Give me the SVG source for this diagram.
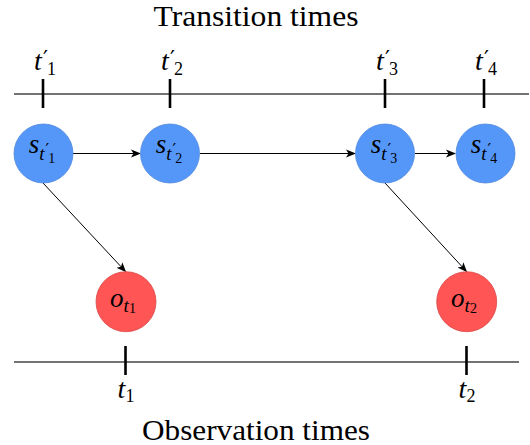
<svg xmlns="http://www.w3.org/2000/svg" width="530" height="445" viewBox="0 0 530 445">
<defs>
<marker id="ah" viewBox="0 0 10 10" refX="9" refY="5" markerWidth="10" markerHeight="10" markerUnits="userSpaceOnUse" orient="auto">
<path d="M0,1 L10,5 L0,9 L2.5,5 Z" fill="#000"/>
</marker>
<style>
text{font-family:"Liberation Serif","DejaVu Serif",serif;fill:#000}
.title{font-size:30px}
.m{font-size:28px;font-style:italic}
.n{font-size:27px;font-style:italic}
.sub{font-size:19px}
.d{font-size:18px;font-style:normal}
.ds{font-size:14px;font-style:normal}
.p{font-family:"DejaVu Sans",sans-serif;font-style:normal;font-size:22px}
.ps{font-family:"DejaVu Sans",sans-serif;font-style:normal;font-size:16px}
.axis{stroke:#444;stroke-width:1.3;fill:none}
.tick{stroke:#000;stroke-width:2.6}
.s{fill:#5597f8;stroke:#4f88dd;stroke-width:0.8}
.o{fill:#ff5555;stroke:#d94848;stroke-width:0.8}
.edge{stroke:#000;stroke-width:1;fill:none;marker-end:url(#ah)}
</style>
</defs>
<g id="axes">
<line class="axis" x1="14" y1="94" x2="529" y2="94"/>
<line class="axis" x1="14" y1="362" x2="519" y2="362"/>
<line class="tick" x1="43" y1="79" x2="43" y2="108"/>
<line class="tick" x1="170" y1="79" x2="170" y2="108"/>
<line class="tick" x1="385" y1="79" x2="385" y2="108"/>
<line class="tick" x1="484" y1="79" x2="484" y2="108"/>
<line class="tick" x1="125.5" y1="346" x2="125.5" y2="375"/>
<line class="tick" x1="466.5" y1="346" x2="466.5" y2="375"/>
</g>
<g id="labels">
<text class="title" x="256" y="26" text-anchor="middle" textLength="205" lengthAdjust="spacingAndGlyphs">Transition times</text>
<text class="title" x="256" y="440" text-anchor="middle" textLength="228" lengthAdjust="spacingAndGlyphs">Observation times</text>
<text class="m" x="45" y="70" text-anchor="middle">t<tspan class="p" dy="-4" dx="1">′</tspan><tspan class="d" dy="9" dx="-1">1</tspan></text>
<text class="m" x="172" y="70" text-anchor="middle">t<tspan class="p" dy="-4" dx="1">′</tspan><tspan class="d" dy="9" dx="-1">2</tspan></text>
<text class="m" x="387" y="70" text-anchor="middle">t<tspan class="p" dy="-4" dx="1">′</tspan><tspan class="d" dy="9" dx="-1">3</tspan></text>
<text class="m" x="486" y="70" text-anchor="middle">t<tspan class="p" dy="-4" dx="1">′</tspan><tspan class="d" dy="9" dx="-1">4</tspan></text>
<text class="m" x="126" y="398" text-anchor="middle">t<tspan class="d" dy="4">1</tspan></text>
<text class="m" x="467" y="398" text-anchor="middle">t<tspan class="d" dy="4">2</tspan></text>
</g>
<g id="edges">
<line class="edge" x1="73" y1="153.5" x2="140" y2="153.5"/>
<line class="edge" x1="200" y1="153.5" x2="355" y2="153.5"/>
<line class="edge" x1="415" y1="153.5" x2="455" y2="153.5"/>
<line class="edge" x1="43" y1="183" x2="125.5" y2="271.5"/>
<line class="edge" x1="385" y1="183" x2="466.5" y2="271.5"/>
</g>
<g id="s1"><circle class="s" cx="43.5" cy="153.5" r="29.5"/>
<text class="n" x="42" y="153" text-anchor="middle">s<tspan class="sub" dy="7">t</tspan><tspan class="ps" dy="-5" dx="1">′</tspan><tspan class="ds" dy="8" dx="-1">1</tspan></text></g>
<g id="s2"><circle class="s" cx="170" cy="153.5" r="29.5"/>
<text class="n" x="169" y="153" text-anchor="middle">s<tspan class="sub" dy="7">t</tspan><tspan class="ps" dy="-5" dx="1">′</tspan><tspan class="ds" dy="8" dx="-1">2</tspan></text></g>
<g id="s3"><circle class="s" cx="385" cy="153.5" r="29.5"/>
<text class="n" x="384" y="153" text-anchor="middle">s<tspan class="sub" dy="7">t</tspan><tspan class="ps" dy="-5" dx="1">′</tspan><tspan class="ds" dy="8" dx="-1">3</tspan></text></g>
<g id="s4"><circle class="s" cx="485.5" cy="153.5" r="29.5"/>
<text class="n" x="484" y="153" text-anchor="middle">s<tspan class="sub" dy="7">t</tspan><tspan class="ps" dy="-5" dx="1">′</tspan><tspan class="ds" dy="8" dx="-1">4</tspan></text></g>
<g id="o1"><circle class="o" cx="126" cy="301.7" r="30"/>
<text class="n" x="123" y="307" text-anchor="middle">o<tspan class="sub" dy="5">t</tspan><tspan class="ds" dy="1">1</tspan></text></g>
<g id="o2"><circle class="o" cx="466.7" cy="301.7" r="30"/>
<text class="n" x="464" y="307" text-anchor="middle">o<tspan class="sub" dy="5">t</tspan><tspan class="ds" dy="1">2</tspan></text></g>
</svg>
